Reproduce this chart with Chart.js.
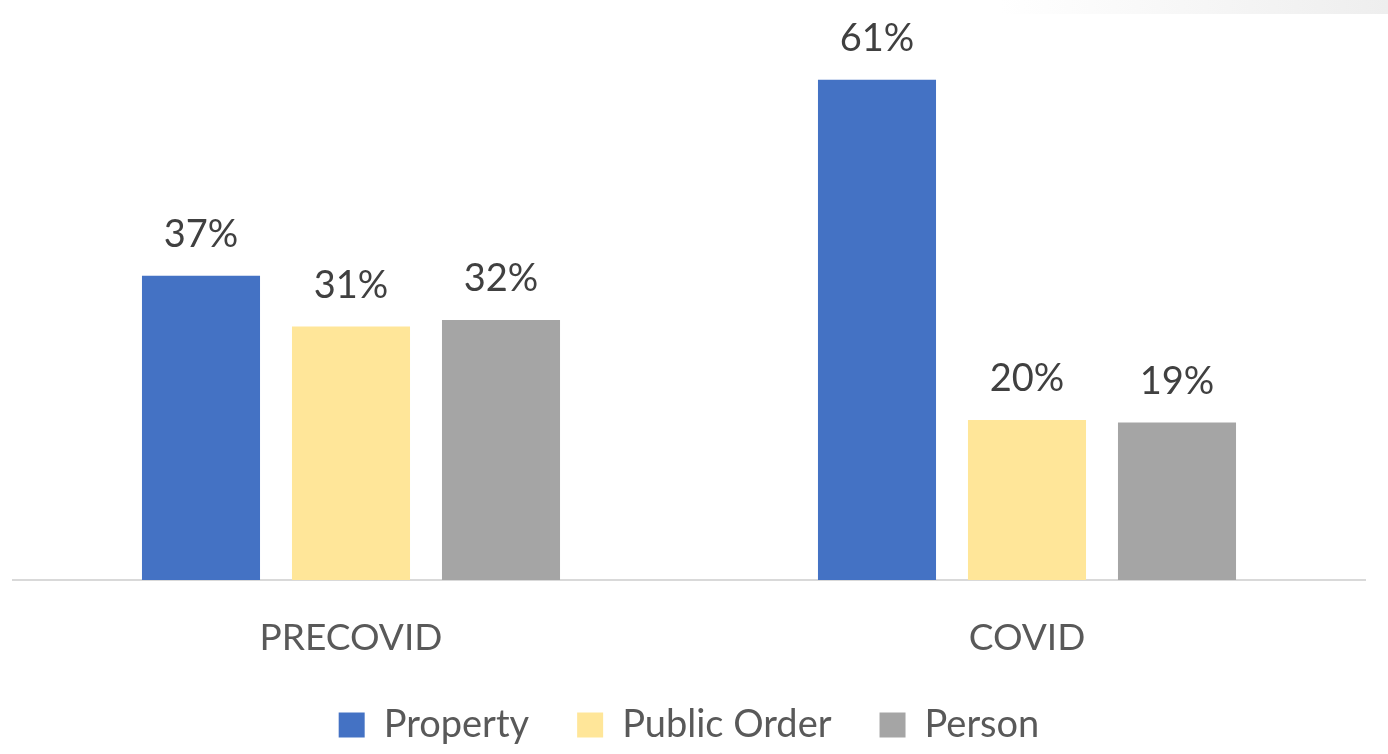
<!DOCTYPE html>
<html>
<head>
<meta charset="utf-8">
<script src="https://cdn.jsdelivr.net/npm/chart.js@4"></script>
<style>
  html, body { margin: 0; padding: 0; background: #ffffff; }
  #wrap { width: 1388px; height: 754px; position: relative; }
  #shade { position: absolute; left: 1000px; top: 0; width: 388px; height: 14px;
           background: linear-gradient(to right, rgba(238,238,238,0), #eeeeee); }
  canvas { position: absolute; left: 0; top: 0; }
</style>
</head>
<body>
<div id="wrap"><div id="shade"></div><canvas id="c" width="1388" height="754"></canvas></div>
<script>
const categories = ["PRECOVID", "COVID"];
const seriesNames = ["Property", "Public Order", "Person"];
const propertyValues = [37.1, 61.0];
const publicOrderValues = [30.9, 19.5];
const personValues = [31.7, 19.2];
const seriesColors = ["#4472C4", "#FFE699", "#A5A5A5"];

const labelPlugin = {
  id: 'valueLabels',
  afterDatasetsDraw(chart) {
    const ctx = chart.ctx;
    ctx.save();
    ctx.font = '38px Lato';
    ctx.fillStyle = '#404040';
    ctx.textAlign = 'center';
    ctx.textBaseline = 'middle';
    chart.data.datasets.forEach((ds, i) => {
      const meta = chart.getDatasetMeta(i);
      meta.data.forEach((el, j) => {
        ctx.fillText(Math.round(ds.data[j]) + '%', el.x, el.y - 41);
      });
    });
    ctx.restore();
  }
};

new Chart(document.getElementById('c'), {
  type: 'bar',
  data: {
    labels: categories,
    datasets: [
      { label: seriesNames[0], data: propertyValues, backgroundColor: seriesColors[0] },
      { label: seriesNames[1], data: publicOrderValues, backgroundColor: seriesColors[1] },
      { label: seriesNames[2], data: personValues, backgroundColor: seriesColors[2] }
    ]
  },
  options: {
    responsive: false,
    animation: false,
    layout: { padding: { left: 13, right: 23, top: 6, bottom: 0 } },
    datasets: { bar: { categoryPercentage: 0.6657, barPercentage: 0.787 } },
    scales: {
      x: {
        grid: { display: false },
        border: { color: '#D9D9D9', width: 2 },
        ticks: { font: { family: 'Lato', size: 37 }, color: '#595959', padding: 28 },
        afterFit(scale) { scale.height = 78; }
      },
      y: { display: false, min: 0, max: 70 }
    },
    plugins: {
      legend: {
        position: 'bottom',
        labels: {
          font: { family: 'Lato', size: 38 },
          color: '#595959',
          boxWidth: 26,
          boxHeight: 25,
          padding: 48
        }
      },
      tooltip: { enabled: false }
    }
  },
  plugins: [labelPlugin]
});
</script>
</body>
</html>
